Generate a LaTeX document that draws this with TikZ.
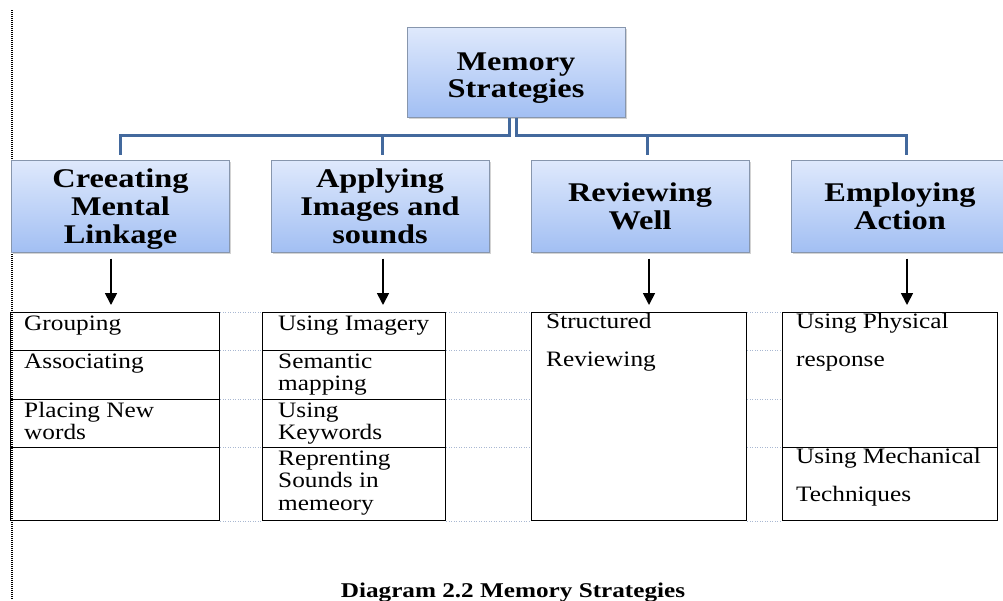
\documentclass[tikz,border=0pt]{standalone}
\usepackage{fontspec}
\setmainfont[FakeStretch=1.15]{Liberation Serif}
\newfontfamily\headfont[FakeStretch=1.2]{Liberation Serif}
\usetikzlibrary{arrows.meta,shadows,calc}

\definecolor{boxtop}{HTML}{DFE9FC}
\definecolor{boxbot}{HTML}{A2BFF3}
\definecolor{boxedge}{HTML}{8796AD}
\definecolor{connblue}{HTML}{43699D}
\definecolor{gridblue}{HTML}{A9B8D2}

% invisible rule that raises the first line of a heading
\newcommand\hdlift[1]{\rule{0pt}{#1}}

\begin{document}
\begin{tikzpicture}[x=1pt,y=-1pt,
  headbox/.style={draw=boxedge, line width=1pt, top color=boxtop, bottom color=boxbot,
    minimum width=218pt, minimum height=92pt, inner sep=0pt, align=center,
    font=\headfont\bfseries\fontsize{27}{28}\selectfont,
    drop shadow={shadow xshift=1.5pt, shadow yshift=-1.5pt, opacity=0.35}},
  conn/.style={draw=connblue, line width=3pt},
  arr/.style={-{Triangle[width=12pt,length=12pt]}, line width=1.7pt},
  cell/.style={draw, line width=1.3pt, inner sep=0pt, anchor=north west},
  celltext/.style={anchor=north west, inner sep=0pt, align=left,
    font=\fontsize{22}{22.5}\selectfont},
  gridline/.style={draw=gridblue, line width=0.9pt, dash pattern=on 1pt off 1.5pt},
  margin/.style={draw=black, line width=1.2pt, dash pattern=on 1pt off 1pt}]

\clip (0,0) rectangle (1003,600);

% vertical margin rule
\draw[margin] (12,10) -- (12,600);

% root and first-level boxes
\node[headbox, minimum height=90pt, font=\headfont\bfseries\fontsize{27}{27}\selectfont] (root) at (516,72) {\hdlift{30pt}Memory\\Strategies};
\node[headbox] (h1) at (120.5,206) {\hdlift{25.5pt}Creeating\\Mental\\Linkage};
\node[headbox] (h2) at (380,206) {Applying\\Images and\\sounds};
\node[headbox] (h3) at (640,206) {Reviewing\\Well};
\node[headbox] (h4) at (900,206) {Employing\\Action};

% hierarchy connectors
\coordinate (bar) at (0,135);
\coordinate (jl) at ([xshift=-7pt]root.south);
\coordinate (jr) at (root.south);
\coordinate (d1) at ([shift={(0,-5)}]h1.north);
\coordinate (d2) at ([shift={(2,-5)}]h2.north);
\coordinate (d3) at ([shift={(7,-5)}]h3.north);
\coordinate (d4) at ([shift={(6,-5)}]h4.north);
\draw[conn] (jl) -- (jl |- bar) -- (d1 |- bar) -- (d1);
\draw[conn] (d2 |- bar) -- (d2);
\draw[conn] (jr) -- (jr |- bar) -- (d4 |- bar) -- (d4);
\draw[conn] (d3 |- bar) -- (d3);

% table cells
\node[cell, minimum width=209pt, minimum height=38pt] (c11) at (10,312) {};
\node[cell, minimum width=209pt, minimum height=49pt] (c12) at (10,350) {};
\node[cell, minimum width=209pt, minimum height=48pt] (c13) at (10,399) {};
\node[cell, minimum width=209pt, minimum height=73pt] (c14) at (10,447) {};

\node[cell, minimum width=183pt, minimum height=38pt] (c21) at (262,312) {};
\node[cell, minimum width=183pt, minimum height=49pt] (c22) at (262,350) {};
\node[cell, minimum width=183pt, minimum height=48pt] (c23) at (262,399) {};
\node[cell, minimum width=183pt, minimum height=73pt] (c24) at (262,447) {};

\node[cell, minimum width=215pt, minimum height=208pt] (c31) at (531,312) {};

\node[cell, minimum width=215pt, minimum height=135pt] (c41) at (782,312) {};
\node[cell, minimum width=215pt, minimum height=73pt] (c42) at (782,447) {};

% cell texts
\node[celltext] (t11) at ($(c11.north west)+(14,2.25)$) {\strut Grouping};
\node[celltext] (t12) at ($(c12.north west)+(14,2.25)$) {\strut Associating};
\node[celltext] (t13) at ($(c13.north west)+(14,2.25)$) {\strut Placing New\\words};

\node[celltext] (t21) at ($(c21.north west)+(16,2.25)$) {\strut Using Imagery};
\node[celltext] (t22) at ($(c22.north west)+(16,2.25)$) {\strut Semantic\\mapping};
\node[celltext] (t23) at ($(c23.north west)+(16,2.25)$) {\strut Using\\Keywords};
\node[celltext] (t24) at ($(c24.north west)+(16,2.25)$) {\strut Reprenting\\Sounds in\\memeory};

\node[celltext, font=\fontsize{22}{38.5}\selectfont] (t31) at ($(c31.north west)+(15,-11)$) {\strut Structured\\Reviewing};
\node[celltext, font=\fontsize{22}{38.5}\selectfont] (t41) at ($(c41.north west)+(14,-11)$) {\strut Using Physical\\response};
\node[celltext, font=\fontsize{22}{38.5}\selectfont] (t42) at ($(c42.north west)+(14,-11)$) {\strut Using Mechanical\\Techniques};

% arrows from categories to tables
\coordinate (a1) at ([shift={(-9.5,6)}]h1.south);
\coordinate (a2) at ([shift={(3,6)}]h2.south);
\coordinate (a3) at ([shift={(9,6)}]h3.south);
\coordinate (a4) at ([shift={(7,6)}]h4.south);
\draw[arr, shorten >=7pt] (a1) -- (a1 |- c11.north);
\draw[arr, shorten >=7pt] (a2) -- (a2 |- c21.north);
\draw[arr, shorten >=7pt] (a3) -- (a3 |- c31.north);
\draw[arr, shorten >=7pt] (a4) -- (a4 |- c41.north);

% dotted table grid between the tables
\foreach \r in {c11.north, c12.north, c13.north, c14.north, c14.south}{
  \draw[gridline] (\r -| c11.east) -- (\r -| c21.west);
  \draw[gridline] (\r -| c21.east) -- (\r -| c31.west);
  \draw[gridline] (\r -| c31.east) -- (\r -| c41.west);
}

% caption
\node[font=\headfont\bfseries\fontsize{21}{21}\selectfont, anchor=base] (cap) at (513,597) {Diagram 2.2 Memory Strategies};
\end{tikzpicture}
\end{document}
